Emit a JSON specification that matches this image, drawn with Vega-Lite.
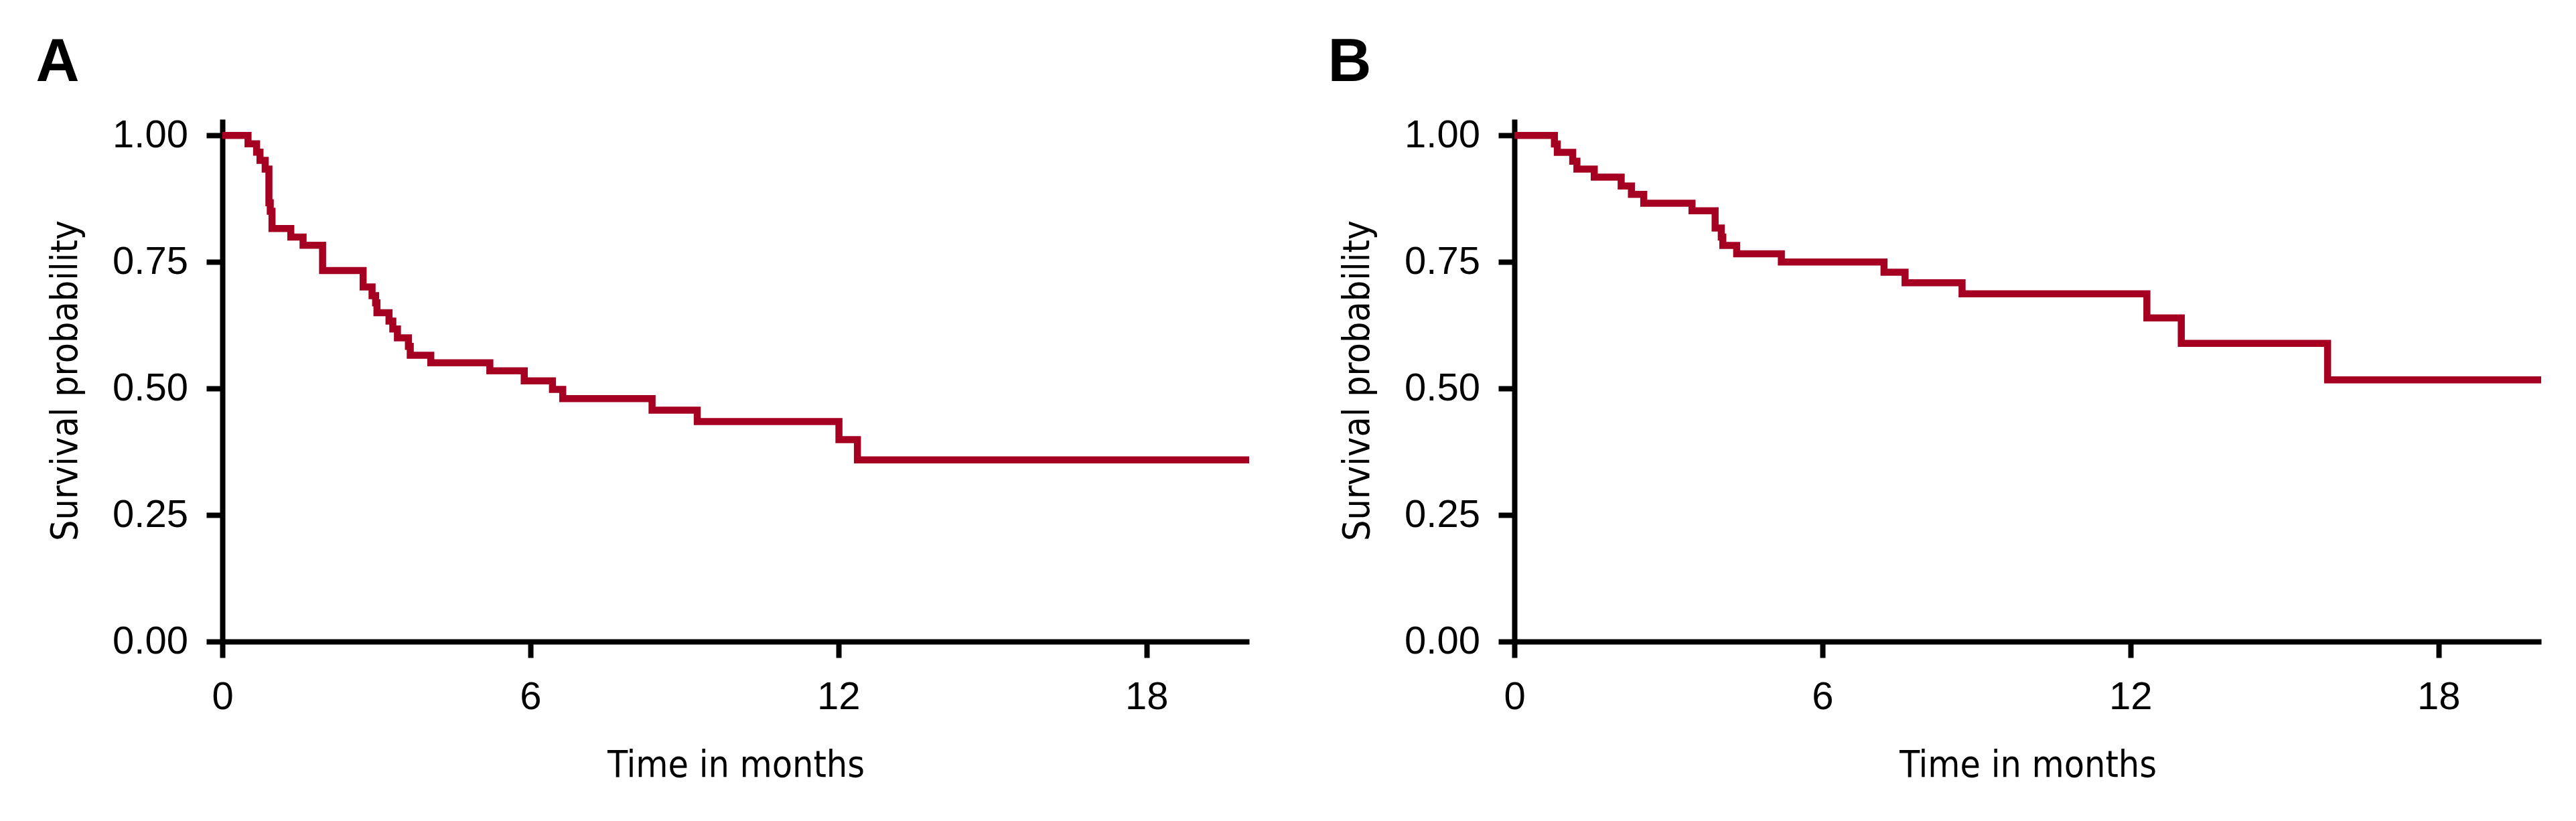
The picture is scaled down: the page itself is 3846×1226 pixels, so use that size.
{
  "$schema": "https://vega.github.io/schema/vega-lite/v6.json",
  "background": "white",
  "padding": {"left": 53, "top": 49, "right": 0, "bottom": 20},
  "datasets": {
    "panelA": [
      {"time": 0, "surv": 1.0},
      {"time": 0.50, "surv": 0.9835},
      {"time": 0.667, "surv": 0.967},
      {"time": 0.733, "surv": 0.9506},
      {"time": 0.834, "surv": 0.9335},
      {"time": 0.907, "surv": 0.8668},
      {"time": 0.933, "surv": 0.85},
      {"time": 0.967, "surv": 0.816},
      {"time": 1.333, "surv": 0.799},
      {"time": 1.572, "surv": 0.783},
      {"time": 1.952, "surv": 0.733},
      {"time": 2.742, "surv": 0.7007},
      {"time": 2.916, "surv": 0.6834},
      {"time": 2.985, "surv": 0.669},
      {"time": 3.011, "surv": 0.6495},
      {"time": 3.246, "surv": 0.633},
      {"time": 3.32, "surv": 0.6177},
      {"time": 3.41, "surv": 0.6},
      {"time": 3.624, "surv": 0.583},
      {"time": 3.66, "surv": 0.5657},
      {"time": 4.06, "surv": 0.5507},
      {"time": 5.21, "surv": 0.535},
      {"time": 5.88, "surv": 0.515},
      {"time": 6.43, "surv": 0.498},
      {"time": 6.63, "surv": 0.48},
      {"time": 8.37, "surv": 0.457},
      {"time": 9.25, "surv": 0.4345},
      {"time": 12.01, "surv": 0.399},
      {"time": 12.37, "surv": 0.359},
      {"time": 20, "surv": 0.359}
    ],
    "panelB": [
      {"time": 0, "surv": 1.0},
      {"time": 0.78, "surv": 0.983},
      {"time": 0.836, "surv": 0.9665},
      {"time": 1.136, "surv": 0.949},
      {"time": 1.218, "surv": 0.9335},
      {"time": 1.556, "surv": 0.9176},
      {"time": 2.08, "surv": 0.9},
      {"time": 2.28, "surv": 0.8836},
      {"time": 2.52, "surv": 0.866},
      {"time": 3.46, "surv": 0.851},
      {"time": 3.91, "surv": 0.817},
      {"time": 4.03, "surv": 0.799},
      {"time": 4.06, "surv": 0.7826},
      {"time": 4.33, "surv": 0.766},
      {"time": 5.2, "surv": 0.75},
      {"time": 7.2, "surv": 0.7297},
      {"time": 7.61, "surv": 0.709},
      {"time": 8.72, "surv": 0.687},
      {"time": 12.32, "surv": 0.6395},
      {"time": 12.99, "surv": 0.589},
      {"time": 15.84, "surv": 0.517},
      {"time": 20, "surv": 0.517}
    ]
  },
  "spacing": 396,
  "bounds": "flush",
  "hconcat": [
    {
      "title": {"text": "A"},
      "width": 1533,
      "height": 780,
      "data": {"name": "panelA"},
      "mark": {"type": "line", "interpolate": "step-after", "color": "#a50021", "strokeWidth": 10.5, "strokeCap": "butt", "strokeJoin": "miter"},
      "encoding": {
        "x": {"field": "time", "type": "quantitative", "scale": {"domain": [0, 20], "nice": false, "zero": false}, "axis": {"values": [0, 6, 12, 18], "title": "Time in months"}},
        "y": {"field": "surv", "type": "quantitative", "scale": {"domain": [0, 1.032], "nice": false}, "axis": {"values": [0, 0.25, 0.5, 0.75, 1], "format": ".2f", "title": "Survival probability"}}
      }
    },
    {
      "title": {"text": "B"},
      "width": 1533,
      "height": 780,
      "data": {"name": "panelB"},
      "mark": {"type": "line", "interpolate": "step-after", "color": "#a50021", "strokeWidth": 10.5, "strokeCap": "butt", "strokeJoin": "miter"},
      "encoding": {
        "x": {"field": "time", "type": "quantitative", "scale": {"domain": [0, 20], "nice": false, "zero": false}, "axis": {"values": [0, 6, 12, 18], "title": "Time in months"}},
        "y": {"field": "surv", "type": "quantitative", "scale": {"domain": [0, 1.032], "nice": false}, "axis": {"values": [0, 0.25, 0.5, 0.75, 1], "format": ".2f", "title": "Survival probability"}}
      }
    }
  ],
  "config": {
    "view": {"stroke": null},
    "title": {"anchor": "start", "frame": "bounds", "font": "Liberation Sans", "fontSize": 90, "fontWeight": "bold", "color": "black", "baseline": "alphabetic", "offset": 33, "dx": -16.5},
    "axis": {
      "grid": false,
      "domainColor": "black",
      "domainWidth": 8,
      "domainCap": "butt",
      "tickColor": "black",
      "tickWidth": 8,
      "tickSize": 24,
      "tickCap": "butt",
      "labelFont": "Liberation Sans",
      "labelFontSize": 58,
      "labelColor": "black",
      "labelFlush": false,
      "labelOverlap": false,
      "titleFont": "DejaVu Sans Condensed",
      "titleFontSize": 55,
      "titleFontWeight": "normal",
      "titleColor": "black"
    },
    "axisX": {"labelPadding": 30, "titlePadding": 46.5},
    "axisY": {"labelPadding": 27.5, "titlePadding": 41.5}
  }
}
